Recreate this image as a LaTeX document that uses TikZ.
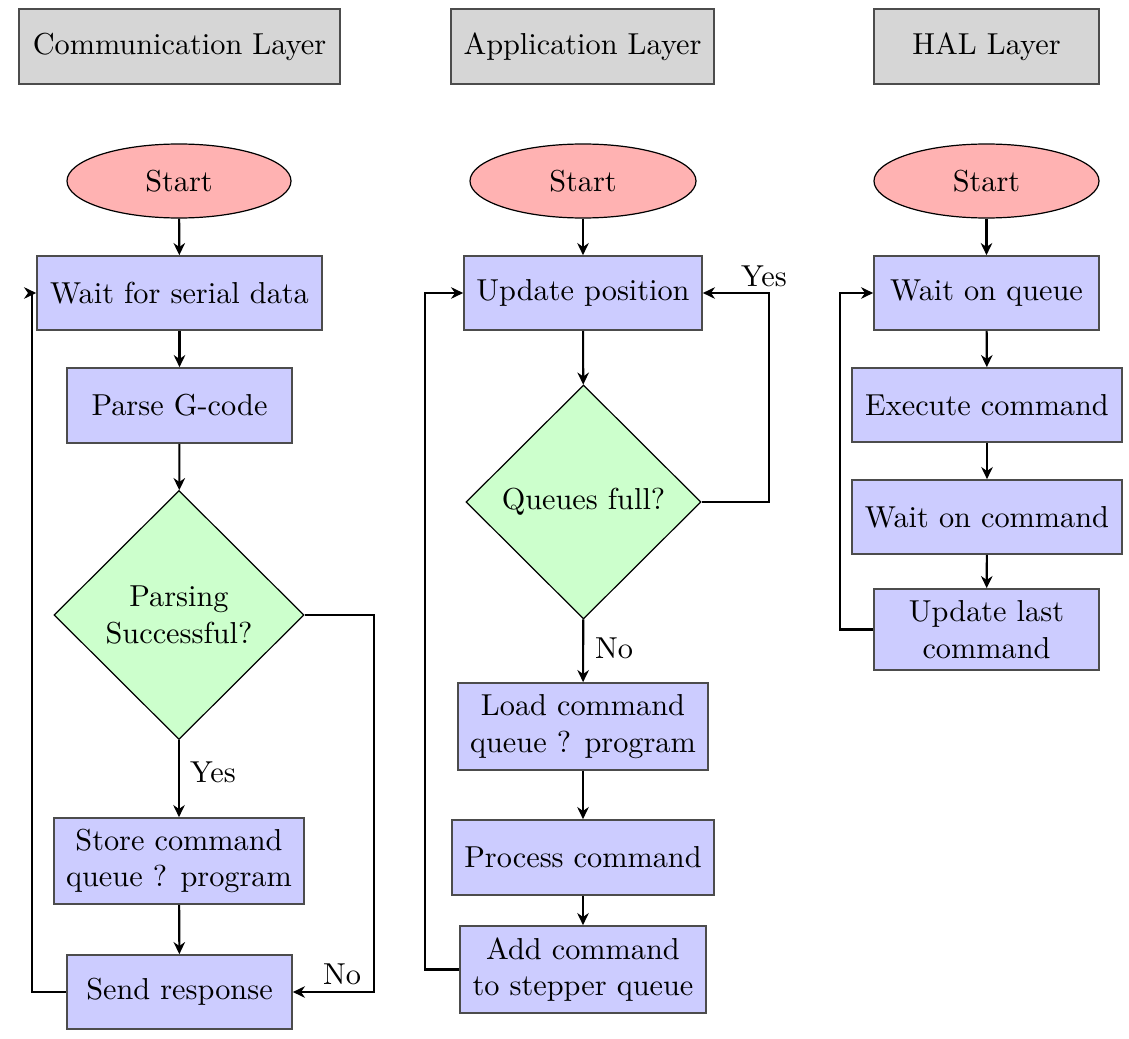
\documentclass[tikz,border=0pt]{standalone}
\usetikzlibrary{shapes.geometric,arrows.meta}
\def\pu{0.33pt}
\tikzset{
  every node/.style={font=\fontsize{10pt}{12pt}\selectfont, inner sep=0pt, align=center},
  hdr/.style={rectangle, draw=black!70, line width=0.55pt, fill=black!16},
  proc/.style={rectangle, draw=black!70, line width=0.55pt, fill=blue!20},
  dec/.style={diamond, draw=black, line width=0.4pt, fill=green!20},
  startnode/.style={ellipse, draw=black, line width=0.4pt, fill=red!30},
  arr/.style={line width=0.7pt, -{Stealth[length=4pt,width=3.8pt,inset=1.3pt]}},
  lbl/.style={}
}
\begin{document}
\begin{tikzpicture}[x=\pu, y=-\pu]
\useasboundingbox (0,0) rectangle (1129,1039);
% headers
\node[hdr, minimum width=321*\pu, minimum height=75*\pu] (h1) at (179.5,46.5) {Communication Layer};
\node[hdr, minimum width=263*\pu, minimum height=75*\pu] (h2) at (582.5,46.5) {Application Layer};
\node[hdr, minimum width=225*\pu, minimum height=75*\pu] (h3) at (986.5,46.5) {HAL Layer};
% communication column
\node[startnode, minimum width=224*\pu, minimum height=74*\pu] (s1) at (179,181) {Start};
\node[proc, minimum width=285*\pu, minimum height=74*\pu] (c1) at (179.5,293) {Wait for serial data};
\node[proc, minimum width=225*\pu, minimum height=75*\pu] (c2) at (179.5,405.5) {Parse G-code};
\node[dec, minimum width=250*\pu, minimum height=249*\pu] (c3) at (179,615) {Parsing\\Successful?};
\node[proc, minimum width=250*\pu, minimum height=86*\pu] (c4) at (179,861) {Store command\\queue ? program};
\node[proc, minimum width=225*\pu, minimum height=74*\pu] (c5) at (179.5,992) {Send response};
% application column
\node[startnode, minimum width=226*\pu, minimum height=74*\pu] (s2) at (583,181) {Start};
\node[proc, minimum width=238*\pu, minimum height=74*\pu] (a1) at (583,293) {Update position};
\node[dec, minimum width=235*\pu, minimum height=234*\pu] (a2) at (583.5,502) {Queues full?};
\node[proc, minimum width=250*\pu, minimum height=87*\pu] (a3) at (583,726.5) {Load command\\queue ? program};
\node[proc, minimum width=262*\pu, minimum height=75*\pu] (a4) at (583,857.5) {Process command};
\node[proc, minimum width=246*\pu, minimum height=87*\pu] (a5) at (583,969.5) {Add command\\to stepper queue};
% HAL column
\node[startnode, minimum width=225*\pu, minimum height=74*\pu] (s3) at (986.5,181) {Start};
\node[proc, minimum width=225*\pu, minimum height=74*\pu] (l1) at (986.5,293) {Wait on queue};
\node[proc, minimum width=270*\pu, minimum height=74*\pu] (l2) at (987,405) {Execute command};
\node[proc, minimum width=270*\pu, minimum height=74*\pu] (l3) at (987,517) {Wait on command};
\node[proc, minimum width=225*\pu, minimum height=81*\pu] (l4) at (986.5,629.5) {Update last\\command};
% labels
\node[lbl] (yes1) at (213,772) {Yes};
\node[lbl] (no1) at (342,974) {No};
\node[lbl] (yes2) at (764,276) {Yes};
\node[lbl] (no2) at (614,648) {No};
% connectors: communication
\draw[arr] (s1) -- (c1);
\draw[arr] (c1) -- (c2);
\draw[arr] (c2) -- (c3);
\draw[arr] (c3) -- (c4);
\draw[arr] (c4) -- (c5);
\draw[arr] (c3.east) -- ++(69,0) |- (c5.east);
\draw[arr] (c5.west) -- ++(-34,0) |- (c1.west);
% connectors: application
\draw[arr] (s2) -- (a1);
\draw[arr] (a1) -- (a2);
\draw[arr] (a2) -- (a3);
\draw[arr] (a3) -- (a4);
\draw[arr] (a4) -- (a5);
\draw[arr] (a2.east) -- ++(67,0) |- (a1.east);
\draw[arr] (a5.west) -- ++(-34,0) |- (a1.west);
% connectors: HAL
\draw[arr] (s3) -- (l1);
\draw[arr] (l1) -- (l2);
\draw[arr] (l2) -- (l3);
\draw[arr] (l3) -- (l4);
\draw[arr] (l4.west) -- ++(-33,0) |- (l1.west);
\end{tikzpicture}
\end{document}
